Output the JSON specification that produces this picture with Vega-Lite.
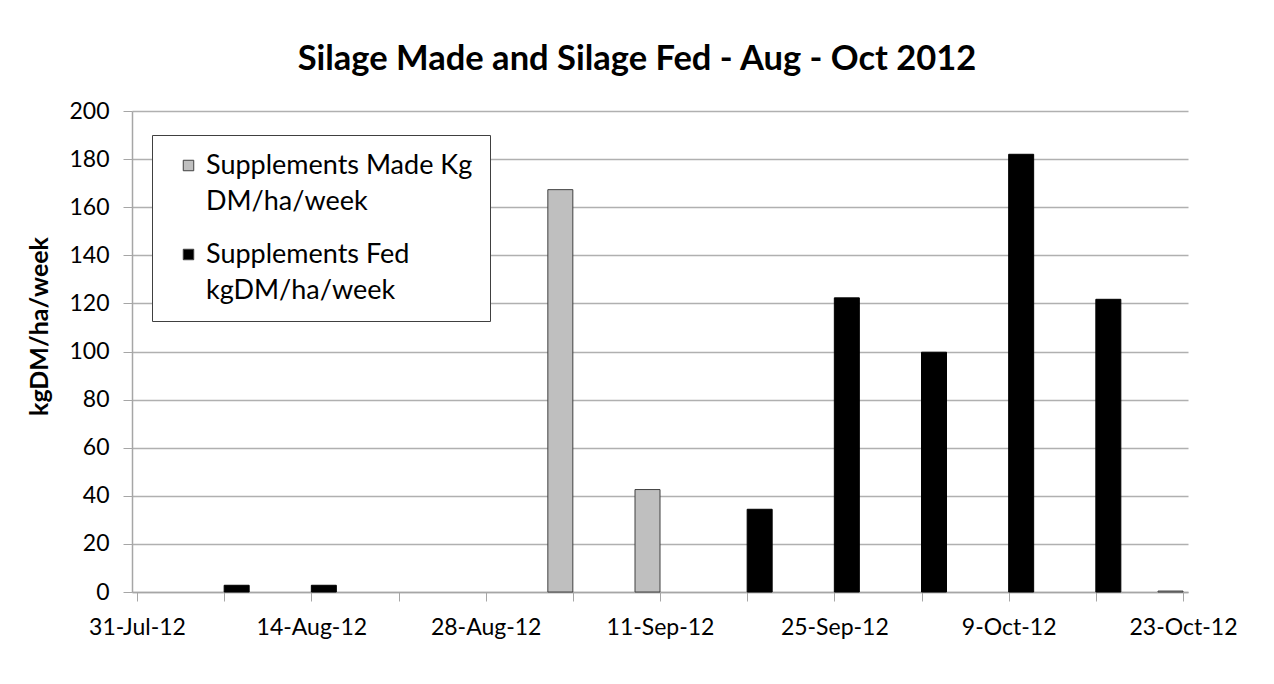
{
  "$schema": "https://vega.github.io/schema/vega-lite/v6.json",
  "width": 1056,
  "height": 481,
  "autosize": {"type": "none"},
  "padding": {"left": 132, "top": 111, "right": 86, "bottom": 92},
  "background": "white",
  "title": {
    "text": "Silage Made and Silage Fed - Aug - Oct 2012",
    "font": "Lato",
    "fontSize": 34.5,
    "fontWeight": "bold",
    "color": "#000000",
    "anchor": "middle",
    "dx": -23,
    "offset": 23
  },
  "data": {
    "values": [
      {"date": "2012-09-04", "series": "Supplements Made Kg DM/ha/week", "value": 167.3},
      {"date": "2012-09-11", "series": "Supplements Made Kg DM/ha/week", "value": 42.6},
      {"date": "2012-10-23", "series": "Supplements Made Kg DM/ha/week", "value": 0.4},
      {"date": "2012-08-07", "series": "Supplements Fed kgDM/ha/week", "value": 2.8},
      {"date": "2012-08-14", "series": "Supplements Fed kgDM/ha/week", "value": 2.8},
      {"date": "2012-09-18", "series": "Supplements Fed kgDM/ha/week", "value": 34.4},
      {"date": "2012-09-25", "series": "Supplements Fed kgDM/ha/week", "value": 122.3},
      {"date": "2012-10-02", "series": "Supplements Fed kgDM/ha/week", "value": 99.7},
      {"date": "2012-10-09", "series": "Supplements Fed kgDM/ha/week", "value": 182.0},
      {"date": "2012-10-16", "series": "Supplements Fed kgDM/ha/week", "value": 121.7}
    ]
  },
  "encoding": {
    "x": {
      "field": "date",
      "type": "temporal",
      "title": null,
      "scale": {
        "type": "utc",
        "domain": [
          {"year": 2012, "month": 7, "date": 31, "utc": true},
          {"year": 2012, "month": 10, "date": 23, "utc": true}
        ]
      },
      "axis": {
        "values": [
          {"year": 2012, "month": 7, "date": 31, "utc": true},
          {"year": 2012, "month": 8, "date": 7, "utc": true},
          {"year": 2012, "month": 8, "date": 14, "utc": true},
          {"year": 2012, "month": 8, "date": 21, "utc": true},
          {"year": 2012, "month": 8, "date": 28, "utc": true},
          {"year": 2012, "month": 9, "date": 4, "utc": true},
          {"year": 2012, "month": 9, "date": 11, "utc": true},
          {"year": 2012, "month": 9, "date": 18, "utc": true},
          {"year": 2012, "month": 9, "date": 25, "utc": true},
          {"year": 2012, "month": 10, "date": 2, "utc": true},
          {"year": 2012, "month": 10, "date": 9, "utc": true},
          {"year": 2012, "month": 10, "date": 16, "utc": true},
          {"year": 2012, "month": 10, "date": 23, "utc": true}
        ],
        "labelExpr": "indexof(['31-Jul-12','14-Aug-12','28-Aug-12','11-Sep-12','25-Sep-12','9-Oct-12','23-Oct-12'], utcFormat(datum.value, '%-d-%b-%y')) >= 0 ? utcFormat(datum.value, '%-d-%b-%y') : ''",
        "labelOverlap": false,
        "labelFlush": false,
        "grid": false,
        "tickSize": 9,
        "labelPadding": 15
      }
    },
    "y": {
      "field": "value",
      "type": "quantitative",
      "title": "kgDM/ha/week",
      "scale": {"domain": [0, 200], "nice": false},
      "axis": {
        "values": [0, 20, 40, 60, 80, 100, 120, 140, 160, 180, 200],
        "grid": true,
        "tickSize": 9,
        "labelPadding": 14,
        "titleFont": "Lato",
        "titleFontSize": 25,
        "titleFontWeight": "bold",
        "titleColor": "#000000",
        "titlePadding": 16,
        "titleY": 215
      }
    },
    "color": {
      "field": "series",
      "type": "nominal",
      "scale": {
        "domain": ["Supplements Made Kg DM/ha/week", "Supplements Fed kgDM/ha/week"],
        "range": ["#bfbfbf", "#000000"]
      },
      "legend": {
        "title": null,
        "orient": "none",
        "legendX": 20,
        "legendY": 24,
        "strokeColor": "#404040",
        "fillColor": "#ffffff",
        "padding": 17,
        "rowPadding": 25,
        "labelFont": "Lato",
        "labelFontSize": 27,
        "labelColor": "#000000",
        "labelLimit": 400,
        "labelOffset": 4,
        "labelExpr": "datum.label == 'Supplements Made Kg DM/ha/week' ? ['Supplements Made Kg', 'DM/ha/week'] : ['Supplements Fed', 'kgDM/ha/week']",
        "symbolType": "square",
        "symbolSize": 110,
        "symbolOffset": 6,
        "symbolStrokeColor": "#404040",
        "symbolStrokeWidth": 1,
        "encode": {
          "labels": {"update": {"lineHeight": {"value": 36}}}
        }
      }
    }
  },
  "layer": [
    {
      "transform": [{"filter": "datum.series == 'Supplements Made Kg DM/ha/week'"}],
      "mark": {"type": "bar", "width": 25, "xOffset": -12.5, "stroke": "#404040", "strokeWidth": 1}
    },
    {
      "transform": [{"filter": "datum.series == 'Supplements Fed kgDM/ha/week'"}],
      "mark": {"type": "bar", "width": 25, "xOffset": 12.5, "stroke": "#000000", "strokeWidth": 1}
    }
  ],
  "config": {
    "view": {"stroke": null},
    "axis": {
      "labelFont": "Lato",
      "labelFontSize": 23,
      "labelColor": "#000000",
      "domainColor": "#a6a6a6",
      "tickColor": "#a6a6a6",
      "gridColor": "#b0b0b0",
      "domainWidth": 1.5,
      "gridWidth": 1.5
    }
  }
}
